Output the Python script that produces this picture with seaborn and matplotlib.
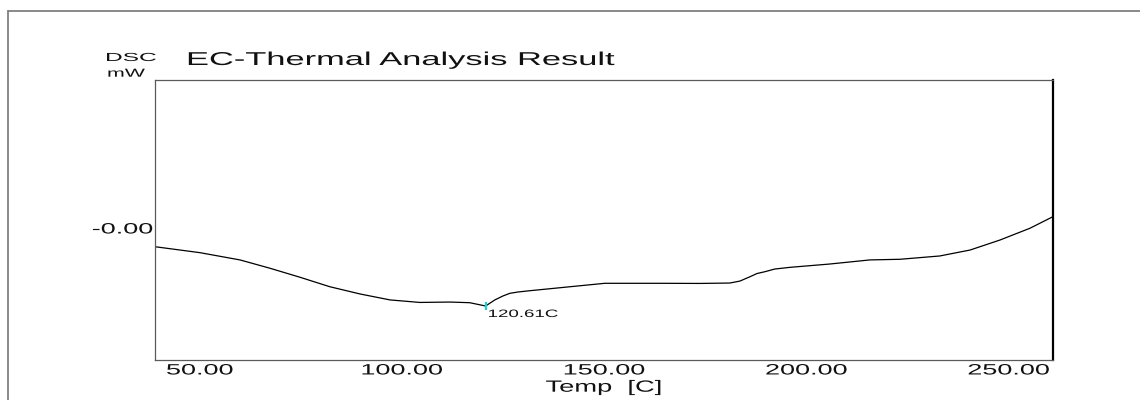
import matplotlib
matplotlib.use("Agg")
import matplotlib.pyplot as plt
import pandas as pd
import seaborn as sns
from matplotlib.lines import Line2D
from matplotlib.patheffects import AbstractPathEffect
from matplotlib.transforms import Affine2D

# DSC trace: temperature (C) and heat flow (mW)
temp_c = [38.9, 50.0, 59.9, 67.3, 74.7, 82.1, 89.6, 97.0, 104.4, 111.8,
          116.7, 120.61, 122.9, 124.9, 126.6, 128.6, 131.6, 141.5, 150.1, 163.7,
          173.6, 181.0, 183.5, 186.0, 187.7, 189.7, 192.1, 195.9, 205.7, 215.6,
          223.1, 232.9, 240.4, 247.8, 255.2, 260.9]
dsc_mw = [-0.142, -0.187, -0.242, -0.305, -0.373, -0.445, -0.500, -0.545, -0.564, -0.561,
          -0.566, -0.591, -0.545, -0.515, -0.495, -0.485, -0.475, -0.445, -0.419, -0.419,
          -0.420, -0.417, -0.402, -0.369, -0.345, -0.331, -0.311, -0.298, -0.273, -0.242,
          -0.237, -0.212, -0.167, -0.091, -0.002, 0.086]

peak_temp = 120.61
peak_dsc = -0.591
peak_label = "120.61C"

x_ticks = [50, 100, 150, 200, 250]
x_tick_labels = ["50.00", "100.00", "150.00", "200.00", "250.00"]
y_ticks = [0.0]
y_tick_labels = ["-0.00"]

title_text = "EC-Thermal Analysis Result"
signal_text = "DSC"
unit_text = "mW"
x_label = "Temp  [C]"


class WideGlyphs(AbstractPathEffect):
    """Render text glyphs widened horizontally about a chosen anchor."""

    def __init__(self, sx=1.8, anchor="left"):
        super().__init__()
        self.sx = sx
        self.anchor = anchor

    def draw_path(self, renderer, gc, tpath, affine, rgbFace=None):
        ext = tpath.get_extents()
        if self.anchor == "center":
            cx = 0.5 * (ext.x0 + ext.x1)
        elif self.anchor == "right":
            cx = ext.x1
        else:
            cx = 0.0
        widen = Affine2D().translate(-cx, 0).scale(self.sx, 1).translate(cx, 0)
        renderer.draw_path(gc, tpath, widen + affine, rgbFace)


sns.set_theme(style="white")
plt.rcParams["font.family"] = ["Liberation Sans", "DejaVu Sans"]

W, H = 1140, 400
fig = plt.figure(figsize=(W / 100, H / 100), dpi=100)
fig.patch.set_facecolor("white")

# plot area in pixel terms
left, right, top, bottom = 154.5, 1053.0, 80.0, 360.0
ax = fig.add_axes([left / W, 1 - bottom / H, (right - left) / W, (bottom - top) / H])
ax.set_facecolor("white")

df = pd.DataFrame({"Temp": temp_c, "DSC": dsc_mw})
sns.lineplot(data=df, x="Temp", y="DSC", ax=ax, color="black", linewidth=0.9,
             estimator=None, sort=False)

sns.scatterplot(x=[peak_temp], y=[peak_dsc], ax=ax, marker="|", s=40,
                color="#19d3d3", linewidth=1.6, zorder=5)
ax.annotate(peak_label, xy=(peak_temp, peak_dsc), xytext=(2, -11),
            textcoords="offset pixels", ha="left", va="baseline",
            fontsize=7.7, color="#111111",
            path_effects=[WideGlyphs(1.75, "left")])

ax.set_xlim(38.75, 260.9)
ax.set_ylim(-1.0, 1.121)

ax.set_xticks(x_ticks)
ax.set_xticklabels(x_tick_labels)
ax.set_yticks(y_ticks)
ax.set_yticklabels(y_tick_labels)

ax.tick_params(axis="x", direction="in", length=3, width=0.8, color="#555555",
               pad=2.5, labelsize=10.8, labelcolor="#111111")
ax.tick_params(axis="y", direction="in", length=7, width=0.8, color="#333333",
               pad=1.0, labelsize=10.8, labelcolor="#111111")
for lbl in ax.get_xticklabels():
    lbl.set_path_effects([WideGlyphs(1.8, "center")])
for lbl in ax.get_yticklabels():
    lbl.set_path_effects([WideGlyphs(1.8, "right")])

ax.set_xlabel(x_label, fontsize=11.7, color="#111111")
ax.xaxis.label.set_va("baseline")
ax.xaxis.set_label_coords(0.5, (bottom - 391.7) / (bottom - top))
ax.xaxis.label.set_path_effects([WideGlyphs(1.68, "center")])
ax.set_ylabel("")

for side in ("left", "bottom", "top"):
    ax.spines[side].set_color("#5a5a5a")
    ax.spines[side].set_linewidth(0.9)
ax.spines["right"].set_color("#000000")
ax.spines["right"].set_linewidth(1.6)

# header texts
fig.text(186 / W, 1 - 65 / H, title_text, ha="left", va="baseline",
         fontsize=13.4, color="#111111", path_effects=[WideGlyphs(1.85, "left")])
fig.text(105 / W, 1 - 61 / H, signal_text, ha="left", va="baseline",
         fontsize=8.4, color="#111111", path_effects=[WideGlyphs(2.1, "left")])
fig.text(107 / W, 1 - 76.7 / H, unit_text, ha="left", va="baseline",
         fontsize=8.4, color="#111111", path_effects=[WideGlyphs(1.83, "left")])

# outer panel frame
fig.add_artist(Line2D([8 / W, 8 / W], [0, 1 - 11 / H], transform=fig.transFigure,
                      color="#808080", linewidth=1.3))
fig.add_artist(Line2D([8 / W, 1], [1 - 11 / H, 1 - 11 / H], transform=fig.transFigure,
                      color="#808080", linewidth=1.3))

fig.savefig("out.png", dpi=100, facecolor="white")
